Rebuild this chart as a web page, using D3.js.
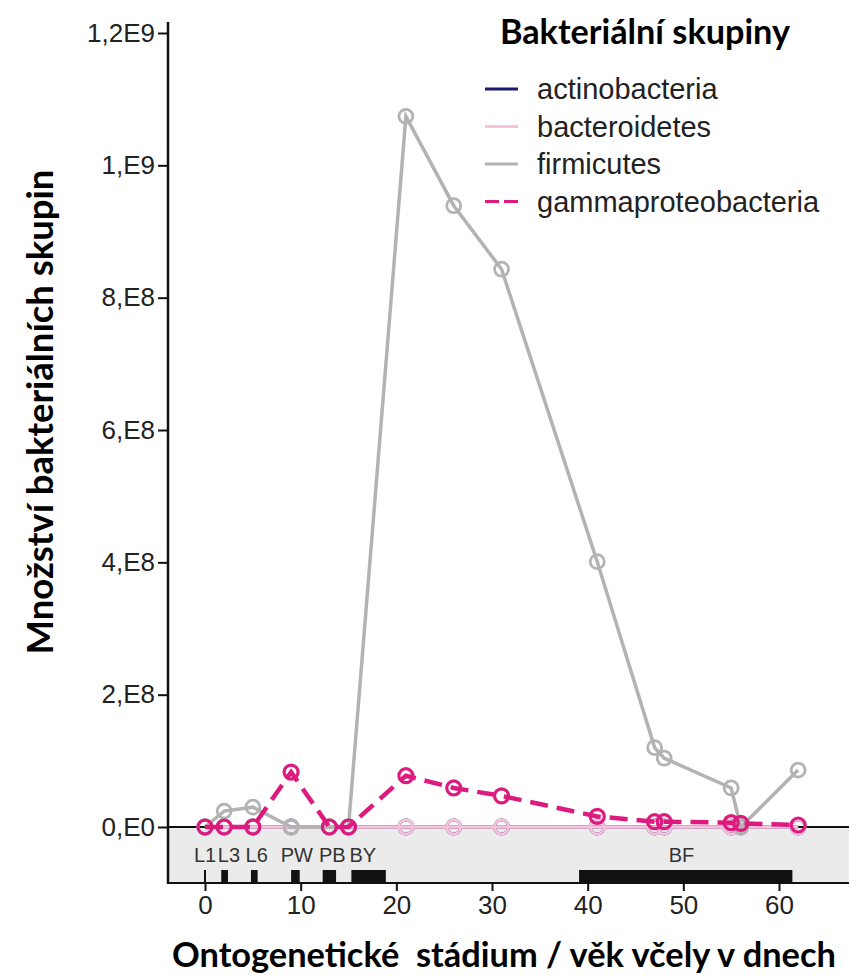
<!DOCTYPE html>
<html>
<head>
<meta charset="utf-8">
<script src="https://cdn.jsdelivr.net/npm/d3@7"></script>
<style>
  body { margin: 0; background: #fff; }
</style>
</head>
<body>
<div id="chart"></div>
<script>
// sampling days (x) and the four bacterial groups (y)
const days = [0, 2, 5, 9, 13, 15, 21, 26, 31, 41, 47, 48, 55, 56, 62];
const actinobacteria = [0, 0, 0, 0, 0, 0, 0, 0, 0, 0, 0, 0, 0, 0, 0];
const bacteroidetes = [0, 0, 0, 0, 0, 0, 0, 0, 0, 0, 0, 0, 0, 0, 0];
const firmicutes = [0, 2.4e7, 3.0e7, 0, 0, 0, 1.074e9, 9.39e8, 8.43e8, 4.01e8, 1.2e8, 1.04e8, 5.9e7, 0, 8.6e7];
const gammaproteobacteria = [0, 0, 0, 8.3e7, 0, 0, 7.75e7, 5.9e7, 4.7e7, 1.6e7, 8e6, 8e6, 6.5e6, 5.5e6, 3e6];

const seriesNames = ["actinobacteria", "bacteroidetes", "firmicutes", "gammaproteobacteria"];

const yTicks = [0, 2e8, 4e8, 6e8, 8e8, 1e9, 1.2e9];
const yTickLabels = ["0,E0", "2,E8", "4,E8", "6,E8", "8,E8", "1,E9", "1,2E9"];
const xTicks = [0, 10, 20, 30, 40, 50, 60];

// ontogenetic stages shown in the grey band
const stageNames = ["L1", "L3", "L6", "PW", "PB", "BY", "BF"];
const stageStart = [0, 1.7, 4.8, 9.0, 12.3, 15.3, 39.1];
const stageEnd = [0, 2.4, 5.5, 9.9, 13.7, 18.9, 61.4];
const stageLabelX = [0, 2.5, 5.4, 9.6, 13.3, 16.5, 49.8];

const width = 849;
const height = 977;
const plot = { left: 168, right: 849, top: 22, bottom: 883 };

const colors = {
  actinobacteria: "#1d1a6e",
  bacteroidetes: "#f7c3da",
  firmicutes: "#b3b3b3",
  gammaproteobacteria: "#dd1a7e",
};

const svg = d3
  .select("#chart")
  .append("svg")
  .attr("width", width)
  .attr("height", height)
  .style("font-family", "'Liberation Sans', Arial, sans-serif");

const xScale = d3.scaleLinear().domain([0, 60]).range([205, 779]);
const yScale = d3.scaleLinear().domain([0, 1.2e9]).range([827, 33]);

// Stage band

svg
  .append("rect")
  .attr("x", plot.left)
  .attr("y", yScale(0))
  .attr("width", plot.right - plot.left)
  .attr("height", plot.bottom - yScale(0))
  .attr("fill", "#ebebec");

svg
  .selectAll(".stage-bar")
  .data(stageNames)
  .enter()
  .append("rect")
  .attr("class", "stage-bar")
  .attr("x", (d, i) => xScale(stageStart[i]) - (stageEnd[i] === stageStart[i] ? 1 : 0))
  .attr("y", plot.bottom - 13)
  .attr("width", (d, i) => Math.max(2, xScale(stageEnd[i]) - xScale(stageStart[i])))
  .attr("height", 13)
  .attr("fill", "#111");

svg
  .selectAll(".stage-label")
  .data(stageNames)
  .enter()
  .append("text")
  .attr("class", "stage-label")
  .attr("x", (d, i) => xScale(stageLabelX[i]))
  .attr("y", 862)
  .attr("text-anchor", "middle")
  .attr("font-size", 20)
  .attr("fill", "#333")
  .text((d) => d);

// zero line
svg
  .append("line")
  .attr("x1", plot.left)
  .attr("x2", plot.right)
  .attr("y1", yScale(0))
  .attr("y2", yScale(0))
  .attr("stroke", "#111")
  .attr("stroke-width", 2);

// Axis

const yAxis = svg
  .append("g")
  .attr("transform", `translate(${plot.left}, 0)`)
  .call(
    d3
      .axisLeft(yScale)
      .tickValues(yTicks)
      .tickFormat((d, i) => yTickLabels[i])
      .tickSize(10)
      .tickPadding(3)
  );
yAxis.select(".domain").remove();
yAxis.selectAll("line").attr("stroke", "#111").attr("stroke-width", 2);
yAxis
  .selectAll("text")
  .attr("font-size", 26)
  .attr("font-family", "'Liberation Sans', Arial, sans-serif")
  .attr("fill", "#222");

const xAxis = svg
  .append("g")
  .attr("transform", `translate(0, ${plot.bottom})`)
  .call(d3.axisBottom(xScale).tickValues(xTicks).tickSize(8).tickPadding(5));
xAxis.select(".domain").remove();
xAxis.selectAll("line").attr("stroke", "#111").attr("stroke-width", 2);
xAxis
  .selectAll("text")
  .attr("font-size", 26)
  .attr("font-family", "'Liberation Sans', Arial, sans-serif")
  .attr("fill", "#222");

svg
  .append("line")
  .attr("x1", plot.left)
  .attr("x2", plot.left)
  .attr("y1", plot.top)
  .attr("y2", plot.bottom + 1)
  .attr("stroke", "#111")
  .attr("stroke-width", 2.5);

svg
  .append("line")
  .attr("x1", plot.left)
  .attr("x2", plot.right)
  .attr("y1", plot.bottom)
  .attr("y2", plot.bottom)
  .attr("stroke", "#111")
  .attr("stroke-width", 2);

// Series

const seriesValues = {
  actinobacteria,
  bacteroidetes,
  firmicutes,
  gammaproteobacteria,
};

const line = d3
  .line()
  .x((d) => xScale(d.x))
  .y((d) => yScale(d.y));

seriesNames.forEach((name) => {
  const points = days.map((day, i) => ({ x: day, y: seriesValues[name][i] }));
  const dashed = name === "gammaproteobacteria";

  svg
    .append("path")
    .datum(points)
    .attr("fill", "none")
    .attr("stroke", colors[name])
    .attr("stroke-width", dashed ? 4.5 : 3.5)
    .attr("stroke-dasharray", dashed ? "18,9" : null)
    .attr("d", line);

  svg
    .selectAll(null)
    .data(points)
    .enter()
    .append("circle")
    .attr("cx", (d) => xScale(d.x))
    .attr("cy", (d) => yScale(d.y))
    .attr("r", 7)
    .attr("fill", "none")
    .attr("stroke", colors[name])
    .attr("stroke-width", dashed ? 3.2 : 2.8);
});

// Legend

function fitText(sel, targetWidth) {
  const size = parseFloat(sel.attr("font-size"));
  const w = sel.node().getComputedTextLength();
  sel.attr("font-size", (size * targetWidth) / w);
}

svg
  .append("text")
  .attr("x", 500)
  .attr("y", 44)
  .attr("font-family", "Lato, 'Open Sans', sans-serif")
  .attr("font-weight", "bold")
  .attr("font-size", 28)
  .attr("fill", "#000")
  .text("Bakteriální skupiny")
  .call(fitText, 290);

const legend = svg
  .selectAll(".legend")
  .data(seriesNames)
  .enter()
  .append("g")
  .attr("class", "legend")
  .attr("transform", (d, i) => `translate(485, ${89 + i * 37.5})`);

legend
  .append("line")
  .attr("x1", 0)
  .attr("x2", 33)
  .attr("stroke", (d) => colors[d])
  .attr("stroke-width", 3)
  .attr("stroke-dasharray", (d) => (d === "gammaproteobacteria" ? "14,5" : null));

legend
  .append("text")
  .attr("x", 52)
  .attr("dy", "0.35em")
  .attr("font-size", 29)
  .attr("fill", "#222")
  .text((d) => d);

// Axis titles

svg
  .append("text")
  .attr("transform", "translate(40, 412) rotate(-90)")
  .attr("text-anchor", "middle")
  .attr("dy", "0.35em")
  .attr("font-family", "Lato, 'Open Sans', sans-serif")
  .attr("font-weight", "bold")
  .attr("font-size", 28)
  .attr("fill", "#000")
  .text("Množství bakteriálních skupin")
  .call(fitText, 485);

svg
  .append("text")
  .attr("x", 504)
  .attr("y", 967)
  .attr("text-anchor", "middle")
  .attr("font-family", "Lato, 'Open Sans', sans-serif")
  .attr("font-weight", "bold")
  .attr("font-size", 28)
  .attr("fill", "#000")
  .attr("xml:space", "preserve")
  .style("white-space", "pre")
  .text("Ontogenetické  stádium / věk včely v dnech")
  .call(fitText, 664);
</script>
</body>
</html>
